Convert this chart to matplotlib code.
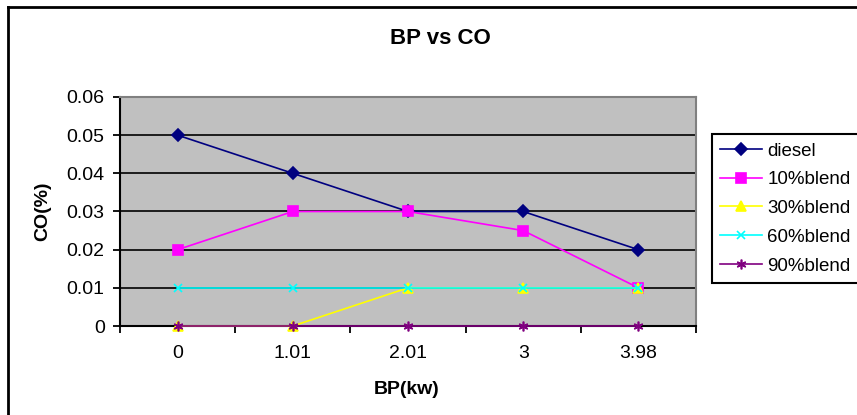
import matplotlib
matplotlib.use("Agg")
from matplotlib import pyplot as plt
from matplotlib.lines import Line2D

plt.rcParams["font.family"] = ["Liberation Sans", "DejaVu Sans"]

bp_labels = ["0", "1.01", "2.01", "3", "3.98"]
diesel = [0.05, 0.04, 0.03, 0.03, 0.02]
blend10 = [0.02, 0.03, 0.03, 0.025, 0.01]
blend30 = [0.0, 0.0, 0.01, 0.01, 0.01]
blend60 = [0.01, 0.01, 0.01, 0.01, 0.01]
blend90 = [0.0, 0.0, 0.0, 0.0, 0.0]

series = [
    ("diesel", diesel, "#000080", "D", 6),
    ("10%blend", blend10, "#FF00FF", "s", 7),
    ("30%blend", blend30, "#FFFF00", "^", 7),
    ("60%blend", blend60, "#00FFFF", "x", 6),
    ("90%blend", blend90, "#800080", (6, 2, 0), 7),
]

W, H = 857, 415
fig = plt.figure(figsize=(W / 100, H / 100), dpi=100)
ax = fig.add_axes([120 / W, (H - 326) / H, (696 - 120) / W, (326 - 97) / H])
ax.set_facecolor("#C0C0C0")

xs = list(range(len(bp_labels)))
for name, vals, col, mk, ms in series:
    ax.plot(xs, vals, color=col, marker=mk, markersize=ms, linewidth=1.2,
            markeredgewidth=1.2, label=name, clip_on=False, zorder=3)

ax.set_xlim(-0.5, len(bp_labels) - 0.5)
ax.set_ylim(0, 0.06)
ax.set_yticks([0, 0.01, 0.02, 0.03, 0.04, 0.05, 0.06])
ax.set_yticklabels(["0", "0.01", "0.02", "0.03", "0.04", "0.05", "0.06"], fontsize=14)
ax.set_xticks(xs)
ax.set_xticklabels(bp_labels, fontsize=14)
ax.set_xticks([x - 0.5 for x in range(len(bp_labels) + 1)], minor=True)
ax.tick_params(axis="x", which="major", length=0, pad=14)
ax.tick_params(axis="x", which="minor", length=5, width=1.3, direction="out")
ax.tick_params(axis="y", length=5, width=1.3, direction="out", pad=6)
ax.grid(axis="y", color="black", linewidth=1.2, zorder=1)
ax.set_axisbelow(True)

for s in ["left", "bottom"]:
    ax.spines[s].set_color("black")
    ax.spines[s].set_linewidth(1.5)
for s in ["top", "right"]:
    ax.spines[s].set_color("#808080")
    ax.spines[s].set_linewidth(1.5)

fig.text(440 / W, 1 - 39 / H, "BP vs CO", ha="center", va="center",
         fontsize=16, fontweight="bold")
fig.text(43 / W, 1 - 211 / H, "CO(%)", ha="center", va="center",
         rotation=90, fontsize=14, fontweight="bold")
fig.text(407 / W, 1 - 389 / H, "BP(kw)", ha="center", va="center",
         fontsize=14, fontweight="bold")

# chart area border (top and left visible)
fig.add_artist(Line2D([8 / W, 1], [1 - 7 / H, 1 - 7 / H], color="black", linewidth=2))
fig.add_artist(Line2D([8 / W, 8 / W], [0, 1 - 7 / H], color="black", linewidth=2))

leg = ax.legend(loc="upper left", bbox_to_anchor=(712 / W, 1 - 134 / H),
                bbox_transform=fig.transFigure, fontsize=13.5, frameon=True,
                fancybox=False, handlelength=2.2, handletextpad=0.3,
                labelspacing=0.62, borderpad=0.45, borderaxespad=0)
leg.get_frame().set_edgecolor("black")
leg.get_frame().set_linewidth(1.5)
leg.get_frame().set_alpha(1)

fig.savefig("out.png", dpi=100)
